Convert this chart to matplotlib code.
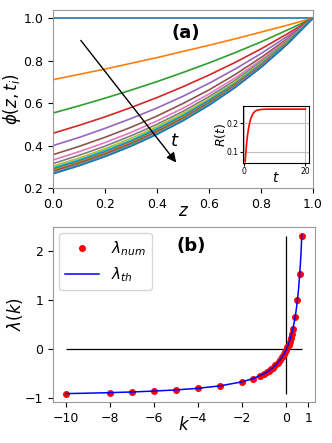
import matplotlib
matplotlib.use("Agg")
import matplotlib.pyplot as plt

# --- panel (a): phi(z, t_i) profiles ---
z = [0.0, 0.1, 0.2, 0.3, 0.4, 0.5, 0.6, 0.7, 0.8, 0.9, 1.0]
phi = [
    [1.000, 1.000, 1.000, 1.000, 1.000, 1.000, 1.000, 1.000, 1.000, 1.000, 1.000],
    [0.710, 0.735, 0.760, 0.787, 0.814, 0.843, 0.872, 0.902, 0.934, 0.966, 1.000],
    [0.553, 0.587, 0.623, 0.661, 0.701, 0.744, 0.789, 0.837, 0.888, 0.943, 1.000],
    [0.458, 0.495, 0.535, 0.579, 0.626, 0.677, 0.732, 0.791, 0.855, 0.925, 1.000],
    [0.400, 0.438, 0.481, 0.527, 0.577, 0.632, 0.693, 0.760, 0.833, 0.913, 1.000],
    [0.357, 0.396, 0.439, 0.486, 0.539, 0.598, 0.662, 0.734, 0.814, 0.902, 1.000],
    [0.332, 0.371, 0.414, 0.462, 0.516, 0.576, 0.643, 0.718, 0.802, 0.896, 1.000],
    [0.315, 0.354, 0.397, 0.446, 0.500, 0.561, 0.630, 0.707, 0.794, 0.891, 1.000],
    [0.303, 0.341, 0.385, 0.434, 0.489, 0.551, 0.620, 0.699, 0.788, 0.888, 1.000],
    [0.295, 0.333, 0.377, 0.425, 0.481, 0.543, 0.614, 0.693, 0.783, 0.885, 1.000],
    [0.289, 0.327, 0.370, 0.419, 0.475, 0.538, 0.609, 0.689, 0.780, 0.883, 1.000],
    [0.284, 0.322, 0.365, 0.414, 0.470, 0.533, 0.604, 0.686, 0.778, 0.882, 1.000],
    [0.280, 0.318, 0.361, 0.410, 0.466, 0.529, 0.601, 0.683, 0.775, 0.881, 1.000],
    [0.277, 0.315, 0.358, 0.407, 0.463, 0.526, 0.598, 0.680, 0.774, 0.880, 1.000],
    [0.275, 0.313, 0.356, 0.405, 0.461, 0.524, 0.597, 0.679, 0.772, 0.879, 1.000],
    [0.273, 0.311, 0.354, 0.403, 0.459, 0.523, 0.595, 0.677, 0.771, 0.878, 1.000],
    [0.271, 0.309, 0.352, 0.401, 0.457, 0.521, 0.593, 0.676, 0.770, 0.878, 1.000],
    [0.270, 0.308, 0.351, 0.400, 0.456, 0.520, 0.592, 0.675, 0.770, 0.877, 1.000],
    [0.269, 0.307, 0.350, 0.399, 0.455, 0.519, 0.592, 0.675, 0.769, 0.877, 1.000],
    [0.268, 0.306, 0.349, 0.398, 0.454, 0.518, 0.591, 0.674, 0.769, 0.877, 1.000],
    [0.267, 0.305, 0.348, 0.397, 0.453, 0.517, 0.590, 0.673, 0.768, 0.876, 1.000],
]

# inset R(t)
t_ins = [0.4, 0.6, 0.8, 1.0, 1.2, 1.5, 2.0, 2.5, 3.0, 3.5, 4.0, 5.0, 6.0, 8.0, 10.0, 14.0, 20.0]
R_ins = [0.066, 0.095, 0.120, 0.142, 0.160, 0.182, 0.208, 0.224, 0.235, 0.241, 0.245, 0.248,
         0.249, 0.250, 0.250, 0.250, 0.250]

# --- panel (b): growth rate lambda(k) ---
k_num = [-10, -8, -7, -6, -5, -4, -3, -2, -1.5, -1.2, -1.0, -0.9, -0.8, -0.7, -0.6, -0.5,
         -0.4, -0.3, -0.2, -0.15, -0.1, -0.05, 0.0, 0.05, 0.1, 0.15, 0.2, 0.25, 0.3,
         0.4, 0.5, 0.6, 0.7]
lam_num = [-0.909, -0.889, -0.875, -0.857, -0.833, -0.800, -0.750, -0.667, -0.600, -0.545,
           -0.500, -0.474, -0.444, -0.412, -0.375, -0.333, -0.286, -0.231, -0.170, -0.135,
           -0.105, -0.060, -0.010, 0.040, 0.095, 0.155, 0.225, 0.310, 0.420,
           0.667, 1.000, 1.530, 2.310]
k_th = [-10, -9, -8, -7, -6, -5, -4, -3, -2, -1.5, -1.0, -0.8, -0.6, -0.4, -0.2, -0.1, 0.0,
        0.1, 0.2, 0.3, 0.35, 0.4, 0.45, 0.5, 0.55, 0.6, 0.65, 0.7]
lam_th = [-0.909, -0.900, -0.889, -0.875, -0.857, -0.833, -0.800, -0.750, -0.667, -0.600,
          -0.500, -0.444, -0.375, -0.286, -0.167, -0.091, 0.000, 0.111, 0.250, 0.429,
          0.538, 0.667, 0.818, 1.000, 1.222, 1.500, 1.857, 2.333]

fig = plt.figure(figsize=(3.32, 4.43), dpi=100)
spine_col = "0.6"

# ----- (a) -----
ax1 = fig.add_axes([0.16, 0.5756, 0.783, 0.4014])
for prof in phi:
    ax1.plot(z, prof, lw=1.2)
ax1.set_xlim(0, 1)
ax1.set_ylim(0.2, 1.037)
ax1.set_xticks([0.0, 0.2, 0.4, 0.6, 0.8, 1.0])
ax1.set_yticks([0.2, 0.4, 0.6, 0.8, 1.0])
ax1.tick_params(labelsize=9)
ax1.set_xlabel("$z$", fontsize=12, labelpad=-6)
ax1.set_ylabel(r"$\phi(z,t_i)$", fontsize=12, labelpad=0)
ax1.annotate("", xy=(0.48, 0.31), xytext=(0.1, 0.905),
             arrowprops=dict(arrowstyle="-|>", color="k", lw=1, mutation_scale=14))
ax1.text(0.45, 0.40, "$t$", fontsize=13)
ax1.text(0.51, 0.93, "(a)", fontsize=13, fontweight="bold", ha="center", va="center")
for s in ax1.spines.values():
    s.set_color(spine_col)

# inset
axi = fig.add_axes([0.731, 0.6314, 0.2006, 0.13])
axi.plot(t_ins, R_ins, color="red", lw=1.2)
axi.set_xlim(-0.4, 21.3)
axi.set_ylim(0.06, 0.262)
axi.set_xticks([0, 20])
axi.set_yticks([0.1, 0.2])
axi.grid(True, color="0.75", lw=0.8)
axi.tick_params(labelsize=5.5, length=2, pad=1)
axi.set_xlabel("$t$", fontsize=10, labelpad=-4)
axi.set_ylabel("$R(t)$", fontsize=9, labelpad=-1)

# ----- (b) -----
ax2 = fig.add_axes([0.16, 0.0926, 0.789, 0.395])
ax2.hlines(0, min(k_num), max(k_num), color="k", lw=0.9)
ax2.vlines(0, min(lam_num), max(lam_num), color="k", lw=0.9)
ax2.plot(k_num, lam_num, "o", color="red", ms=4, label=r"$\lambda_{num}$")
ax2.plot(k_th, lam_th, "-", color="blue", lw=1.1, label=r"$\lambda_{th}$")
ax2.set_xlim(-10.57, 1.3)
ax2.set_ylim(-1.08, 2.5)
ax2.set_xticks([-10, -8, -6, -4, -2, 0, 1])
ax2.set_yticks([-1, 0, 1, 2])
ax2.tick_params(labelsize=9)
ax2.set_xlabel("$k$", fontsize=12, labelpad=-6)
ax2.set_ylabel(r"$\lambda(k)$", fontsize=12, labelpad=0)
ax2.text(-4.3, 2.11, "(b)", fontsize=13, fontweight="bold", ha="center", va="center")
ax2.legend(loc="upper left", fontsize=11, handlelength=2.2, borderaxespad=0.4)
for s in ax2.spines.values():
    s.set_color(spine_col)

fig.savefig("out.png", dpi=100)
